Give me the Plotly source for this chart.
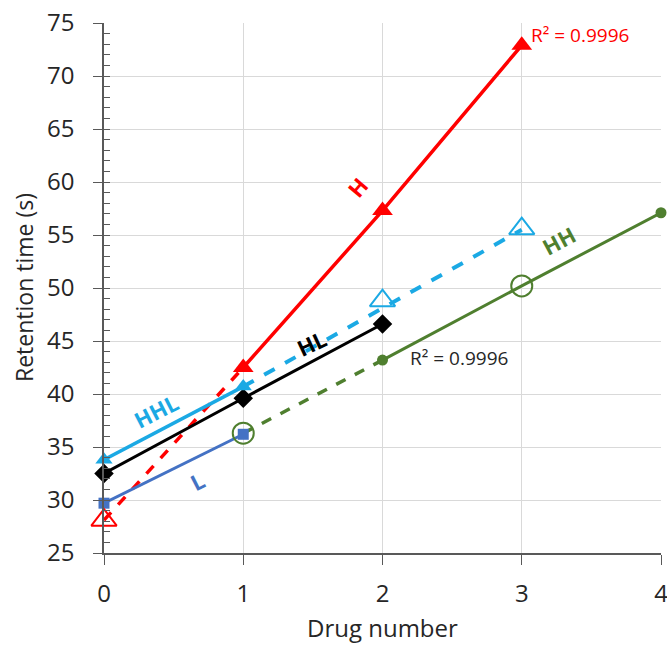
import plotly.graph_objects as go

# ---- data ----
drug = [0, 1, 2, 3, 4]

# H series (red)
h_x = [1, 2, 3]
h_y = [42.5, 57.3, 72.9]
h_ext_x = [0, 1]
h_ext_y = [28.1, 42.5]

# HHL series (cyan)
hhl_x = [0, 1]
hhl_y = [33.8, 40.7]
hhl_ext_x = [1, 3]
hhl_ext_y = [40.7, 55.5]
hhl_open_x = [2, 3]
hhl_open_y = [48.8, 55.6]

# HL series (black)
hl_x = [0, 1, 2]
hl_y = [32.5, 39.6, 46.6]

# L series (blue)
l_x = [0, 1]
l_y = [29.7, 36.2]

# HH series (green)
hh_x = [2, 3, 4]
hh_y = [43.2, 50.2, 57.1]
hh_ext_x = [1, 2]
hh_ext_y = [36.3, 43.2]
hh_open_x = [1, 3]
hh_open_y = [36.3, 50.2]
hh_fill_x = [2, 4]
hh_fill_y = [43.2, 57.1]

RED = "#ff0000"
CYAN = "#1ba9e4"
BLUE = "#4472c4"
GREEN = "#4f7f2f"
BLACK = "#000000"

fig = go.Figure()

def add(**kw):
    fig.add_trace(go.Scatter(cliponaxis=False, showlegend=False, **kw))

# dashed extensions
add(x=h_ext_x, y=h_ext_y, mode="lines", line=dict(color=RED, width=3.5, dash="dash"))
add(x=hh_ext_x, y=hh_ext_y, mode="lines", line=dict(color=GREEN, width=3.5, dash="dash"))
add(x=hhl_ext_x, y=hhl_ext_y, mode="lines", line=dict(color=CYAN, width=4, dash="dash"))

# solid lines
add(x=l_x, y=l_y, mode="lines+markers", line=dict(color=BLUE, width=3),
    marker=dict(symbol="square", size=11, color=BLUE))
add(x=hl_x, y=hl_y, mode="lines+markers", line=dict(color=BLACK, width=3),
    marker=dict(symbol="diamond", size=15, color=BLACK))
add(x=hhl_x, y=hhl_y, mode="lines+markers", line=dict(color=CYAN, width=3.5),
    marker=dict(symbol="triangle-up", size=15, color=CYAN))
add(x=hh_x, y=hh_y, mode="lines", line=dict(color=GREEN, width=3))
add(x=hh_fill_x, y=hh_fill_y, mode="markers",
    marker=dict(symbol="circle", size=11, color=GREEN))
add(x=hh_open_x, y=hh_open_y, mode="markers",
    marker=dict(symbol="circle-open", size=21, color=GREEN, line=dict(width=2)))
add(x=h_x, y=h_y, mode="lines+markers", line=dict(color=RED, width=3.5),
    marker=dict(symbol="triangle-up", size=18, color=RED))
add(x=[h_ext_x[0]], y=[h_ext_y[0]], mode="markers",
    marker=dict(symbol="triangle-up-open", size=22, color=RED, line=dict(width=2)))
add(x=hhl_open_x, y=hhl_open_y, mode="markers",
    marker=dict(symbol="triangle-up-open", size=22, color=CYAN, line=dict(width=2)))

FONT = "Open Sans"

# series labels
labels = [
    ("H", 1.82, 59.5, RED, -50),
    ("HH", 3.27, 54.5, GREEN, -28),
    ("HL", 1.49, 44.8, BLACK, -25),
    ("HHL", 0.37, 38.4, CYAN, -27),
    ("L", 0.67, 31.8, BLUE, -27),
]
for txt, x, y, c, ang in labels:
    fig.add_annotation(x=x, y=y, text="<b>" + txt + "</b>", showarrow=False,
                       textangle=ang, font=dict(family=FONT, size=22, color=c))

fig.add_annotation(x=3.05, y=73.9, text="R² = 0.9996", showarrow=False,
                   xanchor="left", font=dict(family=FONT, size=19, color=RED))
fig.add_annotation(x=2.18, y=43.4, text="R² = 0.9996", showarrow=False,
                   xanchor="left", font=dict(family=FONT, size=19, color="#262626"))

# axis titles
fig.add_annotation(xref="paper", yref="paper", x=0.5, y=0, yshift=-74,
                   text="Drug number", showarrow=False, yanchor="middle",
                   font=dict(family=FONT, size=24, color="#262626"))
fig.add_annotation(xref="paper", yref="paper", x=0, y=0.5, xshift=-80,
                   text="Retention time (s)", showarrow=False, textangle=-90,
                   xanchor="center", yanchor="middle",
                   font=dict(family=FONT, size=23, color="#262626"))

fig.update_layout(
    width=667, height=645,
    margin=dict(l=104, r=6, t=23, b=92),
    plot_bgcolor="white", paper_bgcolor="white",
    showlegend=False,
    font=dict(family=FONT, size=24, color="#262626"),
    xaxis=dict(range=[0, 4], tickvals=drug, showgrid=True, gridcolor="#d9d9d9",
               gridwidth=1, showline=True, linecolor="#595959", linewidth=1.5,
               ticks="outside", ticklen=10, tickcolor="#595959",
               ticklabelstandoff=8, ticklabeloverflow="allow", zeroline=False,
               automargin=False),
    yaxis=dict(range=[25, 75], dtick=5, showgrid=True, gridcolor="#d9d9d9",
               gridwidth=1, showline=True, linecolor="#595959", linewidth=1.5,
               ticks="outside", ticklen=9, tickcolor="#595959",
               ticklabelstandoff=14, zeroline=False, automargin=False),
    yaxis2=dict(overlaying="y", matches="y", range=[25, 75], dtick=1,
                ticks="inside", ticklen=6, tickcolor="#595959",
                showticklabels=False, showgrid=False, zeroline=False,
                showline=False, side="left", automargin=False),
)
fig.add_trace(go.Scatter(x=[None], y=[None], yaxis="y2", showlegend=False))

fig.write_html("out.html")
